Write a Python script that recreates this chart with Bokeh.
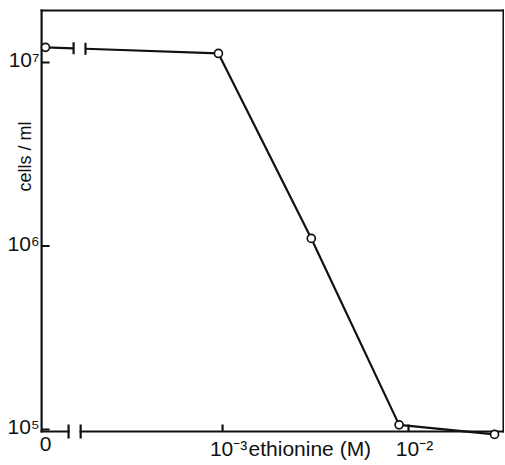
import numpy as np
from bokeh.plotting import figure
from bokeh.models import Range1d
from bokeh.core.properties import value
from bokeh.embed import file_html
from bokeh.resources import INLINE

# ---- data ----
conc = [0.0, 0.00095, 0.0030, 0.0089, 0.029]          # ethionine (M)
cells = [1.21e7, 1.12e7, 1.10e6, 1.06e5, 0.94e5]      # cells / ml

y_ticks = [1e5, 1e6, 1e7]
y_tick_labels = ["10⁵", "10⁶", "10⁷"]
x_ticks = [1e-3, 1e-2]
x_tick_labels = ["10⁻³", "10⁻²"]
x_zero_label = "0"
x_title = "ethionine (M)"
y_title = "cells / ml"

# ---- layout constants (axis values; x is log10 of concentration) ----
W, H = 504, 464
X_START, X_END = -4.194, -1.484
Y_START, Y_END = 10 ** 4.8093, 10 ** 7.3379
X_AXIS, X_RIGHT = -3.973, -1.489          # left axis / right frame edge
Y_LINE, Y_TOP = 10 ** 4.989, 10 ** 7.2834  # bottom axis line / top frame edge
ZERO_POS = -3.952                          # where concentration 0 is placed
Y_TITLE_AT = 10 ** 6.488
DATA_BREAK = (-3.801, -3.737)
AXIS_BREAK = (-3.828, -3.763)
FONT = "Liberation Sans"
INK = "#111111"
LW = 2.2

PX_X = W / (X_END - X_START)                           # pixels per x unit
PX_Y = H / (np.log10(Y_END) - np.log10(Y_START))       # pixels per decade


def dx(px):
    return px / PX_X


def yshift(y, px):
    return y * 10 ** (px / PX_Y)


def xpos(c):
    return float(np.log10(c)) if c > 0 else ZERO_POS


xs = [xpos(c) for c in conc]
ly = [float(np.log10(v)) for v in cells]
xt = [float(np.log10(v)) for v in x_ticks]


def y_on_first_segment(x):
    t = (x - xs[0]) / (xs[1] - xs[0])
    return 10 ** (ly[0] + (ly[1] - ly[0]) * t)


p = figure(width=W, height=H, x_range=Range1d(X_START, X_END),
           y_range=Range1d(Y_START, Y_END), y_axis_type="log",
           x_axis_location=None, y_axis_location=None, min_border=0,
           output_backend="svg", toolbar_location=None)
p.outline_line_color = None
p.grid.visible = False
p.background_fill_color = "white"
p.border_fill_color = "white"

# ---- frame: left axis, top, right, and bottom axis with a break ----
a0, a1 = AXIS_BREAK
p.segment(x0=[X_AXIS, X_AXIS, X_RIGHT, X_AXIS, a1],
          y0=[Y_LINE, Y_TOP, Y_LINE, Y_LINE, Y_LINE],
          x1=[X_AXIS, X_RIGHT, X_RIGHT, a0, X_RIGHT],
          y1=[Y_TOP, Y_TOP, Y_TOP, Y_LINE, Y_LINE],
          line_width=LW, color=INK, line_cap="square")
p.segment(x0=[a0, a1], x1=[a0, a1],
          y0=[yshift(Y_LINE, -7)] * 2, y1=[yshift(Y_LINE, 7)] * 2,
          line_width=LW, color=INK)

# ---- ticks (pointing inward) ----
p.segment(x0=[X_AXIS] * len(y_ticks), x1=[X_AXIS + dx(8)] * len(y_ticks),
          y0=y_ticks, y1=y_ticks, line_width=LW, color=INK)
p.segment(x0=xt, x1=xt, y0=[Y_LINE] * len(xt), y1=[yshift(Y_LINE, 7)] * len(xt),
          line_width=LW, color=INK)

# ---- data line with a break between 0 and the first concentration ----
b0, b1 = DATA_BREAK
yb0, yb1 = y_on_first_segment(b0), y_on_first_segment(b1)
p.line([xs[0], b0], [cells[0], yb0], line_width=LW, color=INK)
p.line([b1] + xs[1:], [yb1] + cells[1:], line_width=LW, color=INK)
p.segment(x0=[b0, b1], x1=[b0, b1],
          y0=[yshift(yb0, -6), yshift(yb1, -6)],
          y1=[yshift(yb0, 6), yshift(yb1, 6)], line_width=LW, color=INK)

# ---- points ----
p.scatter(xs, cells, marker="circle", size=8, fill_color="white",
          line_color=INK, line_width=1.7)

# ---- texts ----
common = dict(text_font=value(FONT), text_color=INK)
p.text(x=[X_AXIS] * len(y_ticks), y=y_ticks, text=y_tick_labels, x_offset=-2,
       y_offset=-3, text_align="right", text_baseline="middle",
       text_font_size="21px", **common)
p.text(x=xt, y=[Y_LINE] * len(xt), text=x_tick_labels, x_offset=6, y_offset=5,
       text_align="center", text_baseline="top", text_font_size="21px", **common)
p.text(x=[ZERO_POS], y=[Y_LINE], text=[x_zero_label], y_offset=5,
       text_align="center", text_baseline="top", text_font_size="21px", **common)
p.text(x=[xt[0]], y=[Y_LINE], text=[x_title], x_offset=26, y_offset=5,
       text_align="left", text_baseline="top", text_font_size="21px", **common)
p.text(x=[X_AXIS], y=[Y_TITLE_AT], text=[y_title], x_offset=-17, angle=np.pi / 2,
       text_align="center", text_baseline="middle", text_font_size="18px", **common)

open("out.html", "w").write(file_html(p, INLINE))
